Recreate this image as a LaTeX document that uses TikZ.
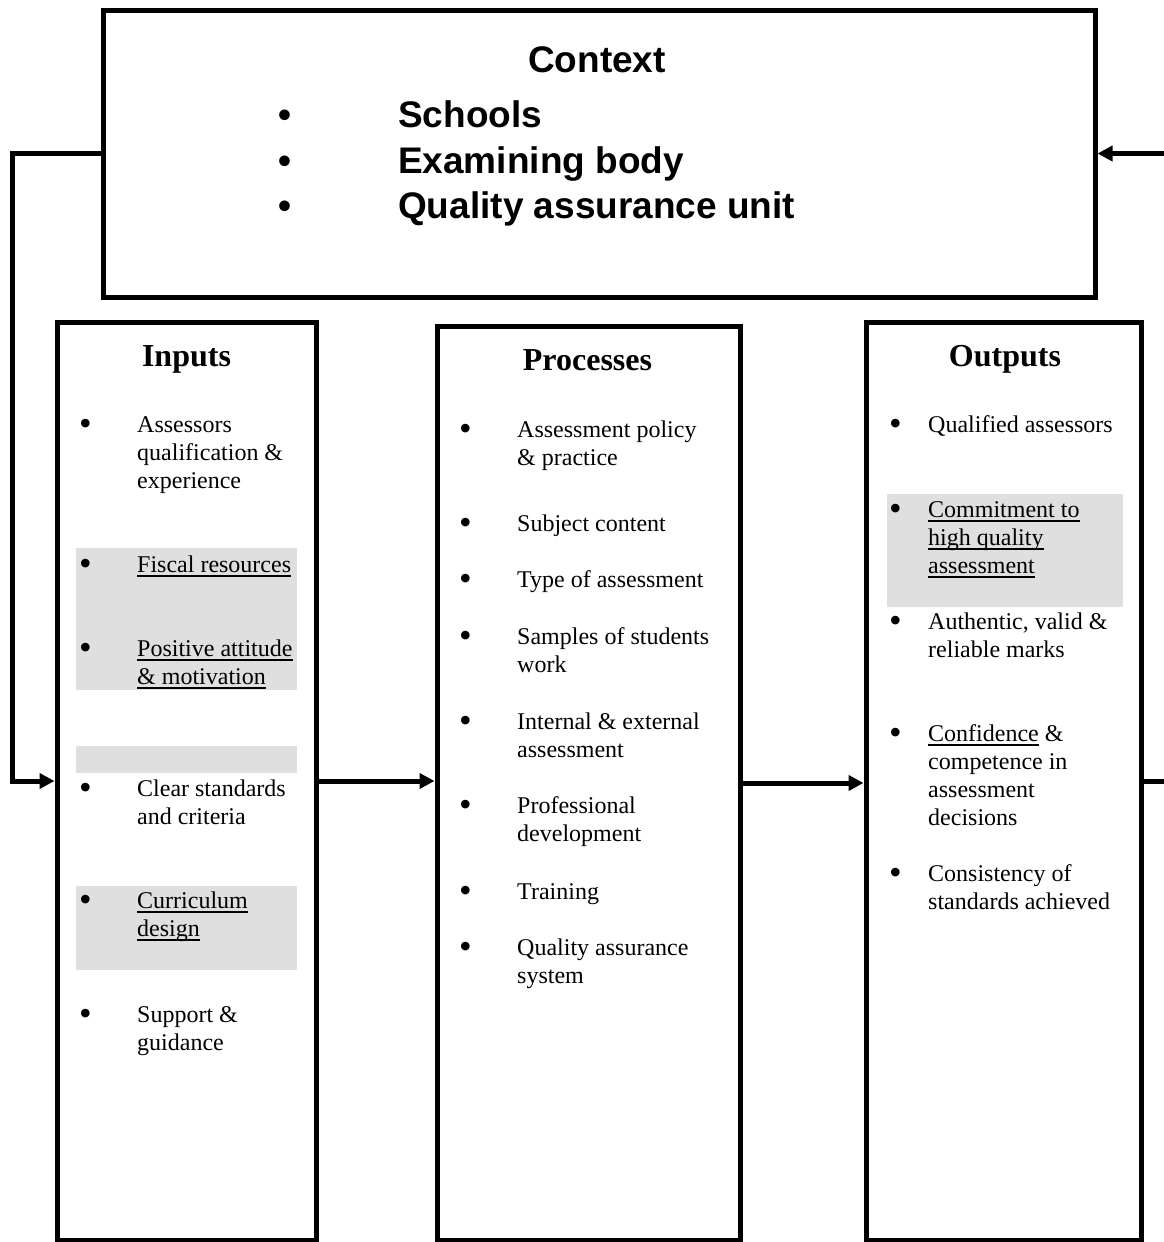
\documentclass[tikz,border=0pt]{standalone}
\usepackage{fontspec}
\setmainfont{Liberation Serif}
\setsansfont{Liberation Sans}
\usetikzlibrary{arrows.meta, positioning}
\definecolor{ShadeGray}{RGB}{223, 223, 223}
% underlined text at a fixed depth
\newsavebox{\ulbox}
\newcommand{\uln}[1]{\sbox{\ulbox}{#1}\rlap{\rule[-4.5pt]{\wd\ulbox}{1.3pt}}\usebox{\ulbox}}
% bullet, then lines of the entry
\newcommand{\bitem}[2]{\makebox[#1][l]{\hspace{-2pt}\raisebox{-3.5pt}{\fontsize{36}{28}\selectfont\textbullet}}\begin{tabular}[t]{@{}l@{}}#2\end{tabular}}
\newcommand{\citem}[2]{\makebox[#1][l]{\textbullet}#2}

\begin{document}
\begin{tikzpicture}[
        x=1pt, y=-1pt,
        >={Triangle[length=15pt, width=15pt]},
        panel/.style={draw, line width=5pt, inner sep=0pt},
        flow/.style={->, line width=5pt},
        hilite/.style={fill=ShadeGray},
        head/.style={anchor=base, inner sep=0pt, font=\fontsize{32}{36}\selectfont\bfseries},
        entry/.style={anchor=base west, inner sep=0pt, font=\fontsize{24}{28}\selectfont},
        ctxhead/.style={anchor=base, inner sep=0pt, font=\sffamily\fontsize{37}{46}\selectfont\bfseries},
        ctxentry/.style={anchor=base west, inner sep=0pt, font=\sffamily\fontsize{37}{46}\selectfont\bfseries}
    ]
    \useasboundingbox (0,0) rectangle (1163,1242);

    % Boxes
    \node[panel, minimum width=992pt, minimum height=287pt] (context) at (599,153.5) {};
    \node[panel, minimum width=259pt, minimum height=918pt] (inputs) at (186.5,781) {};
    \node[panel, minimum width=303pt, minimum height=914pt] (processes) at (588.5,783) {};
    \node[panel, minimum width=275pt, minimum height=918pt] (outputs) at (1003.5,781) {};

    % Shaded entries
    \fill[hilite] (76,548) rectangle (297,690);
    \fill[hilite] (76,746) rectangle (297,773);
    \fill[hilite] (76,886) rectangle (297,970);
    \fill[hilite] (887,494) rectangle (1123,607);

    % Context
    \node[ctxhead] (ctxtitle) at (597,72) {Context};
    \node[ctxentry] (ctx1) at (278.5,127) {\citem{119.5pt}{Schools}};
    \node[ctxentry] (ctx2) at (278.5,173) {\citem{119.5pt}{Examining body}};
    \node[ctxentry] (ctx3) at (278.5,218) {\citem{119.5pt}{Quality assurance unit}};

    % Inputs
    \node[head] (intitle) at (186.5,366) {Inputs};
    \node[entry] (in1) at (81,432) {\bitem{56pt}{Assessors\\qualification \&\\experience}};
    \node[entry] (in2) at (81,572) {\bitem{56pt}{\uln{Fiscal resources}}};
    \node[entry] (in3) at (81,656) {\bitem{56pt}{\uln{Positive attitude}\\\uln{\& motivation}}};
    \node[entry] (in4) at (81,796) {\bitem{56pt}{Clear standards\\and criteria}};
    \node[entry] (in5) at (81,908) {\bitem{56pt}{\uln{Curriculum}\\\uln{design}}};
    \node[entry] (in6) at (81,1022) {\bitem{56pt}{Support \&\\guidance}};

    % Processes
    \node[head] (proctitle) at (587.5,370) {Processes};
    \node[entry] (proc1) at (461,437) {\bitem{56pt}{Assessment policy\\\& practice}};
    \node[entry] (proc2) at (461,531) {\bitem{56pt}{Subject content}};
    \node[entry] (proc3) at (461,587) {\bitem{56pt}{Type of assessment}};
    \node[entry] (proc4) at (461,644) {\bitem{56pt}{Samples of students\\work}};
    \node[entry] (proc5) at (461,729) {\bitem{56pt}{Internal \& external\\assessment}};
    \node[entry] (proc6) at (461,813) {\bitem{56pt}{Professional\\development}};
    \node[entry] (proc7) at (461,899) {\bitem{56pt}{Training}};
    \node[entry] (proc8) at (461,955) {\bitem{56pt}{Quality assurance\\system}};

    % Outputs
    \node[head] (outtitle) at (1005,366) {Outputs};
    \node[entry] (out1) at (891,432) {\bitem{37pt}{Qualified assessors}};
    \node[entry] (out2) at (891,517) {\bitem{37pt}{\uln{Commitment to}\\\uln{high quality}\\\uln{assessment}}};
    \node[entry] (out3) at (891,629) {\bitem{37pt}{Authentic, valid \&\\reliable marks}};
    \node[entry] (out4) at (891,741) {\bitem{37pt}{\uln{Confidence} \&\\competence in\\assessment\\decisions}};
    \node[entry] (out5) at (891,881) {\bitem{37pt}{Consistency of\\standards achieved}};

    % Connectors
    \draw[flow] (context.west) -- ++(-88.5,0) |- (inputs.west);
    \draw[flow] (inputs.east) -- (inputs.east -| processes.west);
    \draw[flow] (processes.east) -- (processes.east -| outputs.west);
    \draw[flow] (outputs.east) -- ++(30,0) |- (context.east);

\end{tikzpicture}
\end{document}
